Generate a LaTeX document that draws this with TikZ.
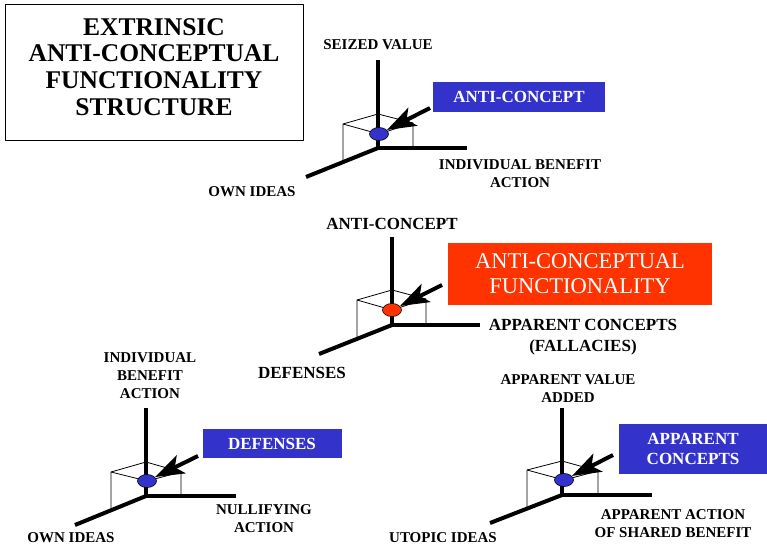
\documentclass[tikz,border=0pt]{standalone}
\usepackage{fontspec}
\setmainfont{Liberation Serif}
\usetikzlibrary{arrows.meta,shapes.geometric}
\definecolor{tagblue}{HTML}{3333CC}
\definecolor{tagred}{HTML}{FF3300}

\begin{document}
\begin{tikzpicture}[x=1pt,y=-1pt,line join=bevel,
  axis/.style={line width=4pt,line join=miter},
  cube/.style={line width=0.8pt},
  pointer/.style={line width=4pt,-{Stealth[length=29pt,width=20pt,inset=7pt]}},
  dot/.style={ellipse,draw,line width=0.6pt,minimum width=19pt,minimum height=13pt,inner sep=0pt},
  axislabel/.style={font=\fontsize{15}{18}\selectfont\bfseries,align=center,inner sep=0pt},
  biglabel/.style={font=\fontsize{17}{21}\selectfont\bfseries,align=center,inner sep=0pt},
  tag/.style={fill=tagblue,text=white,font=\fontsize{17}{20}\selectfont\bfseries,align=center,inner sep=0pt},
]
  \useasboundingbox (0,0) rectangle (767,545);

  \node (title_box) at (154,73) [draw,line width=1pt,minimum width=298pt,minimum height=136pt] {};
  \node (title) at (154,67) [font=\fontsize{25.5}{26.7}\selectfont\bfseries,align=center,inner sep=0pt] {EXTRINSIC\\ANTI-CONCEPTUAL\\FUNCTIONALITY\\STRUCTURE};

  % top: anti-concept
  \coordinate (o_a) at (378,148);
  \coordinate (top_a) at (378,60);
  \coordinate (x_a) at (467,148);
  \coordinate (y_a) at (306,177);
  \draw [cube] (343,161) -- (343,124) -- (378,114) -- (413,123) -- (413,148);
  \draw [cube] (343,124) -- (379,134) -- (413,123);
  \draw [axis] (top_a) -- (o_a) -- (x_a);
  \draw [axis] (o_a) -- (y_a);
  \node (dot_a) at (379,134) [dot,fill=tagblue] {};
  \node (tag_a) at (519,97) [tag,minimum width=172pt,minimum height=30pt] {ANTI-CONCEPT};
  \coordinate (tail_a) at (430,108);
  \draw [pointer] (tail_a) -- (dot_a);
  \node (lab_a1) at (378,45) [axislabel] {SEIZED VALUE};
  \node (lab_a2) at (520,174) [axislabel] {INDIVIDUAL BENEFIT\\ACTION};
  \node (lab_a3) at (252,192) [axislabel] {OWN IDEAS};

  % middle: functionality
  \coordinate (o_b) at (392,325);
  \coordinate (top_b) at (392,237);
  \coordinate (x_b) at (480,325);
  \coordinate (y_b) at (319,354);
  \draw [cube] (357,338) -- (357,300) -- (392,290) -- (426,299) -- (426,325);
  \draw [cube] (357,300) -- (392,310) -- (426,299);
  \draw [axis] (top_b) -- (o_b) -- (x_b);
  \draw [axis] (o_b) -- (y_b);
  \node (dot_b) at (392,310) [dot,fill=tagred] {};
  \node (tag_b) at (580,274) [fill=tagred,text=white,font=\fontsize{22.5}{25}\selectfont,align=center,inner sep=0pt,minimum width=264pt,minimum height=62pt] {ANTI-CONCEPTUAL\\FUNCTIONALITY};
  \coordinate (tail_b) at (442,285);
  \draw [pointer] (tail_b) -- (dot_b);
  \node (lab_b1) at (392,224) [biglabel] {ANTI-CONCEPT};
  \node (lab_b2) at (583,337) [biglabel] {APPARENT CONCEPTS\\(FALLACIES)};
  \node (lab_b3) at (302,373) [biglabel] {DEFENSES};

  % bottom left: defenses
  \coordinate (o_c) at (146,496);
  \coordinate (top_c) at (146,408);
  \coordinate (x_c) at (236,496);
  \coordinate (y_c) at (75,525);
  \draw [cube] (111,508) -- (111,472) -- (146,462) -- (181,472) -- (181,496);
  \draw [cube] (111,472) -- (147,481) -- (181,472);
  \draw [axis] (top_c) -- (o_c) -- (x_c);
  \draw [axis] (o_c) -- (y_c);
  \node (dot_c) at (147,481) [dot,fill=tagblue] {};
  \node (tag_c) at (272,443.5) [tag,minimum width=139pt,minimum height=29pt] {DEFENSES};
  \coordinate (tail_c) at (198,456);
  \draw [pointer] (tail_c) -- (dot_c);
  \node (lab_c1) at (150,375.5) [axislabel] {INDIVIDUAL\\BENEFIT\\ACTION};
  \node (lab_c2) at (264,519) [axislabel] {NULLIFYING\\ACTION};
  \node (lab_c3) at (71,537.5) [axislabel] {OWN IDEAS};

  % bottom right: apparent concepts
  \coordinate (o_d) at (562,495);
  \coordinate (top_d) at (562,408);
  \coordinate (x_d) at (652,495);
  \coordinate (y_d) at (490,523);
  \draw [cube] (527,508) -- (527,470) -- (562,461) -- (598,471) -- (598,495);
  \draw [cube] (527,470) -- (564,480) -- (598,471);
  \draw [axis] (top_d) -- (o_d) -- (x_d);
  \draw [axis] (o_d) -- (y_d);
  \node (dot_d) at (564,480) [dot,fill=tagblue] {};
  \node (tag_d) at (693,449) [tag,minimum width=148pt,minimum height=50pt] {APPARENT\\CONCEPTS};
  \coordinate (tail_d) at (613,455);
  \draw [pointer] (tail_d) -- (dot_d);
  \node (lab_d1) at (568,388.5) [axislabel] {APPARENT VALUE\\ADDED};
  \node (lab_d2) at (673,523.5) [axislabel] {APPARENT ACTION\\OF SHARED BENEFIT};
  \node (lab_d3) at (443,537.5) [axislabel] {UTOPIC IDEAS};
%
\end{tikzpicture}
\end{document}
